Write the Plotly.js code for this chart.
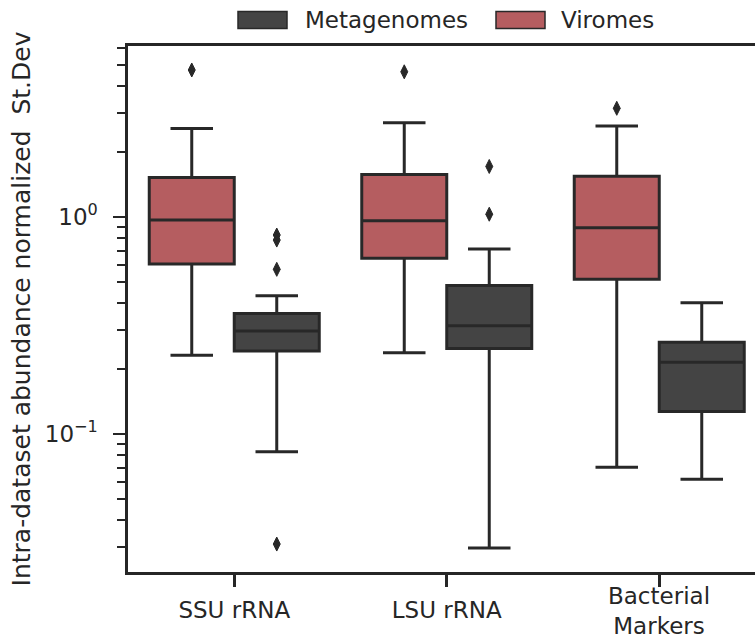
<!DOCTYPE html>
<html>
<head>
<meta charset="utf-8">
<script src="https://cdn.plot.ly/plotly-3.0.1.min.js"></script>
<style>
  html, body { margin: 0; padding: 0; background: #ffffff; }
  #chart { width: 755px; height: 637px; }
</style>
</head>
<body>
<div id="chart"></div>
<script>
// Per-gene-set spread of normalized abundance, summarised as box statistics.
const categories = ["SSU rRNA", "LSU rRNA", "Bacterial Markers"];
const tickLabels = ["SSU rRNA", "LSU rRNA", "Bacterial<br>Markers"];

const seriesNames = ["Metagenomes", "Viromes"];

// Viromes
const viromesLowerFence = [0.2305, 0.237, 0.0703];
const viromesQ1         = [0.607, 0.645, 0.516];
const viromesMedian     = [0.969, 0.962, 0.893];
const viromesQ3         = [1.52, 1.57, 1.54];
const viromesUpperFence = [2.56, 2.72, 2.63];
const viromesOutliers   = [[4.76], [4.67], [3.17]];

// Metagenomes
const metagenomesLowerFence = [0.0828, 0.0298, 0.0618];
const metagenomesQ1         = [0.241, 0.248, 0.127];
const metagenomesMedian     = [0.298, 0.315, 0.214];
const metagenomesQ3         = [0.359, 0.483, 0.265];
const metagenomesUpperFence = [0.434, 0.712, 0.403];
const metagenomesOutliers   = [[0.826, 0.783, 0.574, 0.0311], [1.71, 1.03], []];

// y-axis decorations
const majorTickVals = [0.1, 1];
const majorTickText = ["10<sup>\u22121</sup>", "10<sup>0</sup>"];
const minorTickVals = [0.03, 0.04, 0.05, 0.06, 0.07, 0.08, 0.09,
                       0.2, 0.3, 0.4, 0.5, 0.6, 0.7, 0.8, 0.9,
                       2, 3, 4, 5, 6];

// ---- styling ----
const FONT = "DejaVu Sans, sans-serif";
const TEXT = "#262626";
const EDGE = "#282828";
const COLORS = { Metagenomes: "#444444", Viromes: "#b55d60" };
const HUE_OFFSET = { Viromes: -0.2, Metagenomes: 0.2 };
const BOX_WIDTH = 0.4;

const W = 755, H = 637;
const M = { l: 128, r: 0, t: 46, b: 65 };
const plotW = W - M.l - M.r, plotH = H - M.t - M.b;
const px2x = px => (px - M.l) / plotW;
const px2y = py => (H - M.b - py) / plotH;

const catIdx = categories.map((_, i) => i);

function boxTrace(name, lf, q1, med, q3, uf) {
  return {
    type: "box",
    name: name,
    x: catIdx.map(i => i + HUE_OFFSET[name]),
    lowerfence: lf, q1: q1, median: med, q3: q3, upperfence: uf,
    boxpoints: false,
    width: BOX_WIDTH,
    whiskerwidth: 0.5,
    fillcolor: COLORS[name],
    line: { color: EDGE, width: 3 },
    showlegend: false,
    hoverinfo: "skip"
  };
}

function outlierTrace(name, groups) {
  const xs = [], ys = [];
  groups.forEach((vals, i) => vals.forEach(v => { xs.push(i + HUE_OFFSET[name]); ys.push(v); }));
  return {
    type: "scatter", mode: "markers", name: name + " outliers",
    x: xs, y: ys,
    marker: { symbol: "diamond-tall", size: 10, color: EDGE, line: { color: EDGE, width: 1 } },
    showlegend: false, hoverinfo: "skip", cliponaxis: false
  };
}

const data = [
  boxTrace("Viromes", viromesLowerFence, viromesQ1, viromesMedian, viromesQ3, viromesUpperFence),
  boxTrace("Metagenomes", metagenomesLowerFence, metagenomesQ1, metagenomesMedian, metagenomesQ3, metagenomesUpperFence),
  outlierTrace("Viromes", viromesOutliers),
  outlierTrace("Metagenomes", metagenomesOutliers)
];

// Single-line category labels go on the axis; multi-line ones are
// centred on the same band as annotations.
const axisTickText = tickLabels.map(t => (t.includes("<br>") ? "" : t));
const wrappedLabels = tickLabels
  .map((t, i) => ({ t, i }))
  .filter(o => o.t.includes("<br>"))
  .map(o => ({
    xref: "x", yref: "paper", x: o.i, y: px2y(611),
    xanchor: "center", yanchor: "middle", showarrow: false,
    text: o.t, font: { family: FONT, size: 23, color: TEXT }
  }));

// Legend drawn as patches + labels above the axes
const legendItems = [
  { name: seriesNames[0], patch: [238, 287], textX: 303 },
  { name: seriesNames[1], patch: [496, 545], textX: 559 }
];
const shapes = legendItems.map(it => ({
  type: "rect", xref: "paper", yref: "paper",
  x0: px2x(it.patch[0]), x1: px2x(it.patch[1]),
  y0: px2y(28.5), y1: px2y(11.5),
  fillcolor: COLORS[it.name], line: { color: EDGE, width: 1.5 }
}));
const legendLabels = legendItems.map(it => ({
  xref: "paper", yref: "paper", x: px2x(it.textX), y: px2y(20),
  xanchor: "left", yanchor: "middle", showarrow: false,
  text: it.name, font: { family: FONT, size: 23, color: TEXT }
}));

const layout = {
  width: W, height: H,
  margin: M,
  paper_bgcolor: "#ffffff", plot_bgcolor: "#ffffff",
  showlegend: false,
  font: { family: FONT, color: TEXT, size: 23 },
  xaxis: {
    type: "linear",
    range: [-0.5, -0.5 + plotW / 212.5],
    tickmode: "array", tickvals: catIdx, ticktext: axisTickText,
    ticks: "outside", ticklen: 12, tickwidth: 2.6, tickcolor: TEXT,
    ticklabelstandoff: 4,
    showline: true, linecolor: TEXT, linewidth: 2.6, mirror: true,
    showgrid: false, zeroline: false,
    tickfont: { family: FONT, size: 23, color: TEXT }
  },
  yaxis: {
    type: "log",
    range: [Math.log10(0.02312), Math.log10(6.14)],
    tickmode: "array", tickvals: majorTickVals, ticktext: majorTickText,
    ticks: "outside", ticklen: 12, tickwidth: 2.6, tickcolor: TEXT,
    ticklabelstandoff: 11,
    minor: { tickmode: "array", tickvals: minorTickVals, ticks: "outside", ticklen: 8, tickwidth: 2, tickcolor: TEXT, showgrid: false },
    showline: true, linecolor: TEXT, linewidth: 2.6, mirror: false,
    showgrid: false, zeroline: false,
    tickfont: { family: FONT, size: 23, color: TEXT },
    title: { text: "Intra-dataset abundance normalized\u00a0\u00a0St.Dev", font: { family: FONT, size: 25, color: TEXT }, standoff: 7 }
  },
  shapes: shapes,
  annotations: legendLabels.concat(wrappedLabels)
};

Plotly.newPlot("chart", data, layout, { staticPlot: true, displayModeBar: false });
</script>
</body>
</html>
